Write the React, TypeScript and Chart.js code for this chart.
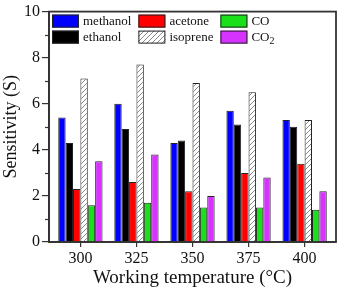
import React, { useEffect, useRef } from "react";
import { Chart, registerables } from "chart.js";
Chart.register(...registerables);

const temperatures = [300, 325, 350, 375, 400];
const yTickValues = [0, 2, 4, 6, 8, 10];
const minorYTicks = [1, 3, 5, 7, 9];
const methanol = [5.4, 6.0, 4.3, 5.7, 5.3];
const ethanol = [4.3, 4.9, 4.4, 5.1, 5.0];
const acetone = [2.3, 2.6, 2.2, 3.0, 3.4];
const isoprene = [7.1, 7.7, 6.9, 6.5, 5.3];
const co = [1.6, 1.7, 1.5, 1.5, 1.4];
const co2 = [3.5, 3.8, 2.0, 2.8, 2.2];
const seriesNames = ["methanol", "ethanol", "acetone", "isoprene", "CO", "CO₂"];
const seriesValues = [methanol, ethanol, acetone, isoprene, co, co2];

const FONT = "'Liberation Serif', 'Times New Roman', serif";
const AXIS = "#333333";
const EDGE = "#222222";

function makeHatch(): CanvasPattern | string {
  const c = document.createElement("canvas");
  c.width = 5;
  c.height = 5;
  const g = c.getContext("2d");
  if (!g) return "#ffffff";
  g.fillStyle = "#ffffff";
  g.fillRect(0, 0, 5, 5);
  g.strokeStyle = "#8a8a8a";
  g.lineWidth = 1;
  g.beginPath();
  g.moveTo(0, 5);
  g.lineTo(5, 0);
  g.moveTo(-1, 1);
  g.lineTo(1, -1);
  g.moveTo(4, 6);
  g.lineTo(6, 4);
  g.stroke();
  const p = g.createPattern(c, "repeat");
  return p || "#ffffff";
}

export default function App() {
  const ref = useRef<HTMLCanvasElement | null>(null);

  useEffect(() => {
    document.body.style.margin = "0";
    const canvas = ref.current;
    if (!canvas) return;
    const hatch = makeHatch();
    const colors: any[] = ["#0000ff", "#000000", "#ff0000", hatch, "#19e019", "#d633ff"];

    const datasets = seriesNames.map((name, i) => ({
      label: name,
      data: temperatures.map((t, j) => ({ x: t, y: seriesValues[i][j] })),
      backgroundColor: colors[i],
      borderColor: EDGE,
      borderWidth: 1,
      categoryPercentage: 0.79,
      barPercentage: 1,
    }));

    const framePlugin = {
      id: "frameLegend",
      afterDatasetsDraw(chart: any) {
        const { ctx, chartArea: a, scales } = chart;
        ctx.save();
        ctx.strokeStyle = AXIS;
        ctx.lineWidth = 1.2;
        minorYTicks.forEach((v) => {
          const y = Math.round(scales.y.getPixelForValue(v)) + 0.5;
          ctx.beginPath();
          ctx.moveTo(a.left - 4, y);
          ctx.lineTo(a.left, y);
          ctx.stroke();
        });
        ctx.lineWidth = 1.8;
        ctx.strokeRect(a.left, a.top, a.right - a.left, a.bottom - a.top);

        // legend: 3 columns x 2 rows
        const boxW = 27;
        const boxH = 13;
        const rowPitch = 16;
        const gap = 7;
        ctx.font = `13px ${FONT}`;
        ctx.textBaseline = "middle";
        ctx.textAlign = "left";
        let x = a.left + 3;
        for (let col = 0; col < 3; col++) {
          let maxW = 0;
          for (let row = 0; row < 2; row++) {
            const idx = col * 2 + row;
            const y = a.top + 3 + row * rowPitch;
            ctx.fillStyle = colors[idx];
            ctx.fillRect(x, y, boxW, boxH);
            ctx.strokeStyle = EDGE;
            ctx.lineWidth = 1;
            ctx.strokeRect(x + 0.5, y + 0.5, boxW - 1, boxH - 1);
            const name = seriesNames[idx];
            const parts = name.split("₂");
            ctx.fillStyle = "#111111";
            ctx.font = `13px ${FONT}`;
            const tx = x + boxW + 4;
            const ty = y + boxH / 2 + 0.5;
            ctx.fillText(parts[0], tx, ty);
            let w = ctx.measureText(parts[0]).width;
            if (parts.length > 1) {
              ctx.font = `10px ${FONT}`;
              ctx.fillText("2", tx + w, ty + 4);
              w += ctx.measureText("2").width;
              ctx.font = `13px ${FONT}`;
            }
            maxW = Math.max(maxW, w);
          }
          x += boxW + 4 + maxW + gap;
        }
        ctx.restore();
      },
    };

    const chart = new Chart(canvas, {
      type: "bar",
      data: { datasets },
      plugins: [framePlugin],
      options: {
        animation: false,
        responsive: false,
        devicePixelRatio: 1,
        layout: { padding: { top: 9, right: 6, left: 0, bottom: 0 } },
        plugins: { legend: { display: false }, tooltip: { enabled: false } },
        scales: {
          x: {
            type: "linear",
            offset: false,
            min: 286,
            max: 414,
            afterBuildTicks: (scale: any) => {
              scale.ticks = temperatures.map((v) => ({ value: v }));
            },
            afterFit: (scale: any) => {
              scale.height = 49;
            },
            grid: { offset: false, drawOnChartArea: false, tickLength: 5, color: AXIS, lineWidth: 1.2 },
            border: { display: true, color: AXIS, width: 1.8 },
            ticks: {
              padding: 2,
              color: "#111111",
              font: { family: FONT, size: 16 },
              callback: (v: any) => String(v),
            },
            title: {
              display: true,
              text: "Working temperature (°C)",
              color: "#111111",
              font: { family: FONT, size: 19 },
              padding: { top: 0, bottom: 2 },
            },
          },
          y: {
            min: 0,
            max: 10,
            afterBuildTicks: (scale: any) => {
              scale.ticks = yTickValues.map((v) => ({ value: v }));
            },
            afterFit: (scale: any) => {
              scale.width = 49;
            },
            grid: { drawOnChartArea: false, tickLength: 7, color: AXIS, lineWidth: 1.2 },
            border: { display: true, color: AXIS, width: 1.8 },
            ticks: {
              padding: 2,
              color: "#111111",
              font: { family: FONT, size: 16 },
            },
            title: {
              display: true,
              text: "Sensitivity (S)",
              color: "#111111",
              font: { family: FONT, size: 18 },
              padding: { top: 0, bottom: 0 },
            },
          },
        },
      },
    } as any);
    return () => chart.destroy();
  }, []);

  return (
    <div style={{ width: 342, height: 291, background: "#ffffff" }}>
      <canvas ref={ref} width={342} height={291} style={{ display: "block" }} />
    </div>
  );
}
